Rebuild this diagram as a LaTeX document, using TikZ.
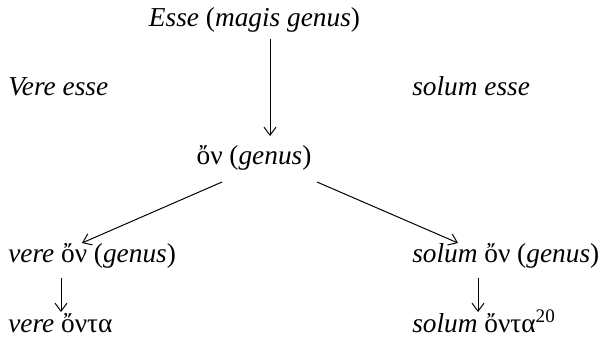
\documentclass[tikz,border=0pt]{standalone}
\usepackage{fontspec}
\setmainfont{Liberation Serif}
\usetikzlibrary{calc, arrows.meta}

\tikzset{
  lbl/.style={anchor=base west, inner sep=0pt, font=\fontsize{20.5}{24}\selectfont},
  mid/.style={lbl, anchor=base},
  arr/.style={-{Straight Barb[length=6pt, width=9pt]}, line width=0.75pt}
}

\begin{document}
\begin{tikzpicture}[x=0.75pt, y=-0.75pt]
  \useasboundingbox (0,0) rectangle (602,341);

  % ====== top: Esse and its genus ======
  \node[mid] (esse) at (254.5,27) {\textit{Esse} (\textit{magis genus})};
  \node[lbl] (vesse) at (8,96) {\textit{Vere esse}};
  \node[lbl] (sesse) at (412,96) {\textit{solum esse}};
  \node[mid] (on) at (254,165) {ὄν (\textit{genus})};
  \draw[arr] ($(esse.base)+(15.5,12)$) -- ($(on.base)+(16,-29)$);

  % ====== left: vere ======
  \node[lbl] (von) at (8,263) {\textit{vere} ὄν (\textit{genus})};
  \node[lbl] (vonta) at (8,333) {\textit{vere} ὄντα};
  \draw[arr] ($(on.base)+(-32,17)$) -- ($(von.base west)+(74,-20)$);
  \draw[arr] ($(von.base west)+(53,15)$) -- ($(vonta.base west)+(53,-21)$);

  % ====== right: solum ======
  \node[lbl] (son) at (412,263) {\textit{solum} ὄν (\textit{genus})};
  \node[lbl] (sonta) at (412,333) {\textit{solum} ὄντα\textsuperscript{20}};
  \draw[arr] ($(on.base)+(63,17)$) -- ($(son.base west)+(46,-20)$);
  \draw[arr] ($(son.base west)+(66,15)$) -- ($(sonta.base west)+(66,-21)$);

\end{tikzpicture}
\end{document}
